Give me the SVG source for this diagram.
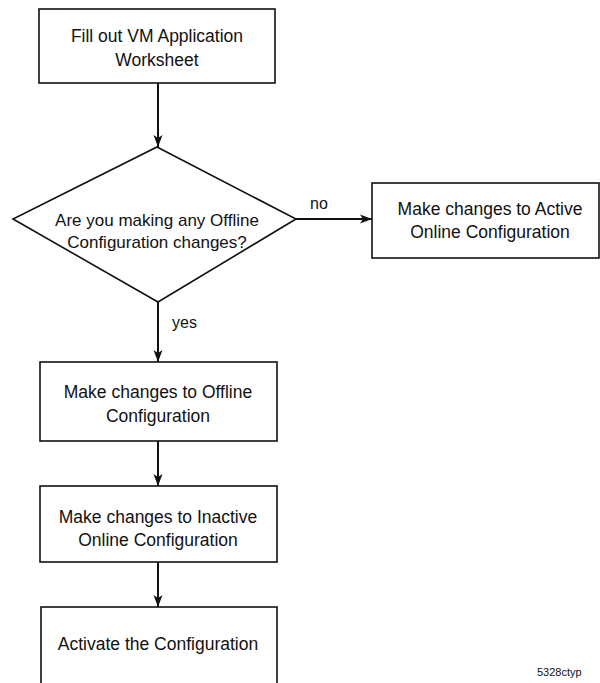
<svg xmlns="http://www.w3.org/2000/svg" width="600" height="683" viewBox="0 0 600 683">
<defs>
<style>
.box{fill:#fff;stroke:#111;stroke-width:1.6}
.t{font-family:"Liberation Sans",Arial,sans-serif;font-size:17.5px;fill:#111;text-anchor:middle}
.d{font-size:17px}
.lbl{font-family:"Liberation Sans",Arial,sans-serif;font-size:16px;fill:#111}
.conn{stroke:#111;stroke-width:2;fill:none;marker-end:url(#ah)}
</style>
<marker id="ah" viewBox="0 0 12 10" refX="12" refY="5" markerWidth="12" markerHeight="10" markerUnits="userSpaceOnUse" orient="auto">
<path d="M0,0.5 L12,5 L0,9.5 L3,5 z" fill="#111"/>
</marker>
</defs>
<rect width="600" height="683" fill="#fff"/>
<g id="connectors">
<line class="conn" x1="158" y1="83" x2="158" y2="147"/>
<line class="conn" x1="296" y1="219" x2="372" y2="219"/>
<line class="conn" x1="158" y1="302" x2="158" y2="362"/>
<line class="conn" x1="158" y1="441" x2="158" y2="486"/>
<line class="conn" x1="158" y1="562" x2="158" y2="607"/>
<text class="lbl" x="310" y="209">no</text>
<text class="lbl" x="172" y="328">yes</text>
</g>
<g id="n1">
<rect class="box" x="39" y="9" width="236" height="74"/>
<text class="t" x="157" y="42">Fill out VM Application</text>
<text class="t" x="157" y="66">Worksheet</text>
</g>
<g id="n2">
<polygon class="box" points="157,147 296,219 158,302 13,219"/>
<text class="t d" x="157" y="226">Are you making any Offline</text>
<text class="t d" x="157" y="248">Configuration changes?</text>
</g>
<g id="n3">
<rect class="box" x="372" y="183" width="227" height="75"/>
<text class="t" x="490" y="215">Make changes to Active</text>
<text class="t" x="490" y="238">Online Configuration</text>
</g>
<g id="n4">
<rect class="box" x="40" y="362" width="237" height="79"/>
<text class="t" x="158" y="398">Make changes to Offline</text>
<text class="t" x="158" y="422">Configuration</text>
</g>
<g id="n5">
<rect class="box" x="40" y="486" width="237" height="76"/>
<text class="t" x="158" y="523">Make changes to Inactive</text>
<text class="t" x="158" y="546">Online Configuration</text>
</g>
<g id="n6">
<rect class="box" x="41" y="607" width="236" height="90"/>
<text class="t" x="158" y="650">Activate the Configuration</text>
</g>
<text x="537" y="676" font-family="'Liberation Sans',Arial,sans-serif" font-size="11" fill="#111">5328ctyp</text>
</svg>
